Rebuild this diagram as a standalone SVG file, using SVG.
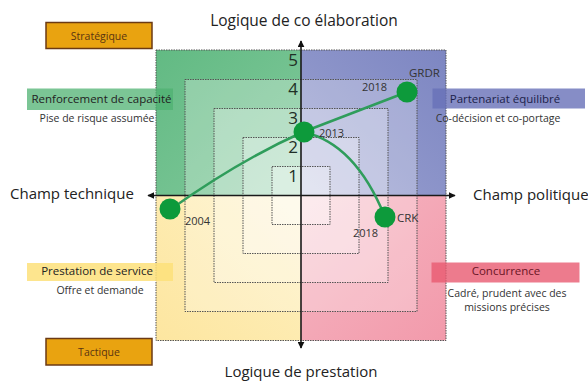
<svg xmlns="http://www.w3.org/2000/svg" width="588" height="381" viewBox="0 0 588 381">
<defs>
<style>
.t{font-family:"Open Sans","DejaVu Sans",sans-serif;fill:#222}
.ax{font-size:15px}
.lbl{font-size:11.5px}
.sub{font-size:10.5px;fill:#333}
.num{font-size:17px;fill:#1f2f26}
.yr{font-size:11px;fill:#333}
.sq{fill:#fff;fill-opacity:0.27;stroke:#555;stroke-width:1;stroke-dasharray:1.5 1}
.box{fill:#e9a310;stroke:#6b3a14;stroke-width:1.5}
.boxt{font-size:10.5px;fill:#5a3510}
.axis{stroke:#1a1a1a;stroke-width:1.6;fill:none}
.curve{stroke:#2f9d5b;stroke-width:2.5;fill:none}
.dot{fill:#0d9a3b}
</style>
<linearGradient id="gTL" x1="0" y1="0" x2="1" y2="1"><stop offset="0" stop-color="#62ba83"/><stop offset="1" stop-color="#82c99c"/></linearGradient>
<linearGradient id="gTR" x1="1" y1="0" x2="0" y2="1"><stop offset="0" stop-color="#7d86c2"/><stop offset="1" stop-color="#9aa1d0"/></linearGradient>
<linearGradient id="gBL" x1="0" y1="1" x2="1" y2="0"><stop offset="0" stop-color="#fde6a0"/><stop offset="1" stop-color="#fef0c0"/></linearGradient>
<linearGradient id="gBR" x1="1" y1="1" x2="0" y2="0"><stop offset="0" stop-color="#f29aab"/><stop offset="1" stop-color="#f6b6c2"/></linearGradient>
<marker id="arr" viewBox="0 0 10 10" refX="9" refY="5" markerWidth="7" markerHeight="7" orient="auto-start-reverse" markerUnits="userSpaceOnUse">
<path d="M0,0 L10,5 L0,10 z" fill="#111"/>
</marker>
</defs>
<rect width="588" height="381" fill="#fff"/>

<g id="quadrants">
<rect x="156" y="50" width="145" height="145.5" fill="url(#gTL)"/>
<rect x="301" y="50" width="145" height="145.5" fill="url(#gTR)"/>
<rect x="156" y="195.5" width="145" height="145" fill="url(#gBL)"/>
<rect x="301" y="195.5" width="145" height="145" fill="url(#gBR)"/>
<rect x="156" y="50" width="290" height="290.5" fill="none" stroke="#555" stroke-width="1" stroke-dasharray="1.5 1"/>
</g>

<g id="squares">
<rect class="sq" x="185" y="79.5" width="232" height="232"/>
<rect class="sq" x="214" y="108.5" width="174" height="174"/>
<rect class="sq" x="243" y="137.5" width="116" height="116"/>
<rect class="sq" x="272" y="166.5" width="58" height="58"/>
</g>

<g id="scale">
<text class="t num" x="298" y="66" text-anchor="end">5</text>
<text class="t num" x="298" y="95" text-anchor="end">4</text>
<text class="t num" x="298" y="124" text-anchor="end">3</text>
<text class="t num" x="298" y="153" text-anchor="end">2</text>
<text class="t num" x="298" y="182" text-anchor="end">1</text>
</g>

<g id="axes">
<line class="axis" x1="148" y1="195.5" x2="455" y2="195.5" marker-start="url(#arr)" marker-end="url(#arr)"/>
<line class="axis" x1="301" y1="41" x2="301" y2="348" marker-start="url(#arr)" marker-end="url(#arr)"/>
<text class="t ax" x="304" y="26" text-anchor="middle" style="font-size:15.5px">Logique de co élaboration</text>
<text class="t ax" x="301" y="377" text-anchor="middle">Logique de prestation</text>
<text class="t ax" x="10" y="199">Champ technique</text>
<text class="t ax" x="473" y="200">Champ politique</text>
</g>

<g id="connectors">
<path class="curve" d="M171,209 Q240,160 303,132"/>
<path class="curve" d="M303,132 L407,92"/>
<path class="curve" d="M303,132 Q355,143 385,217"/>
</g>

<g id="node-2004">
<circle class="dot" cx="170" cy="209" r="10.5"/>
<text class="t yr" x="185" y="225">2004</text>
</g>
<g id="node-2013">
<circle class="dot" cx="304" cy="132" r="10.5"/>
<text class="t yr" x="319" y="137">2013</text>
</g>
<g id="node-GRDR">
<circle class="dot" cx="407" cy="92" r="10.5"/>
<text class="t yr" x="362" y="91">2018</text>
<text class="t lbl" x="409" y="77" style="fill:#333">GRDR</text>
</g>
<g id="node-CRK">
<circle class="dot" cx="385" cy="217" r="10.5"/>
<text class="t lbl" x="397" y="222" style="fill:#333">CRK</text>
<text class="t yr" x="353" y="237">2018</text>
</g>

<g id="strategique">
<rect class="box" x="46" y="22.5" width="106" height="26"/>
<text class="t boxt" x="99" y="39.5" text-anchor="middle">Stratégique</text>
</g>
<g id="tactique">
<rect class="box" x="46" y="338.5" width="106" height="26.5"/>
<text class="t boxt" x="99" y="355.5" text-anchor="middle">Tactique</text>
</g>

<g id="renforcement">
<rect x="27" y="88.5" width="146" height="21.5" fill="#4fb272" fill-opacity="0.75"/>
<text class="t lbl" x="101.5" y="103" text-anchor="middle">Renforcement de capacité</text>
<text class="t sub" x="97" y="122" text-anchor="middle">Pise de risque assumée</text>
</g>
<g id="partenariat">
<rect x="432.5" y="88.5" width="152.5" height="20" fill="#6870b8" fill-opacity="0.8"/>
<text class="t lbl" x="505" y="102.5" text-anchor="middle" style="fill:#1c1f4a">Partenariat équilibré</text>
<text class="t sub" x="498" y="122" text-anchor="middle">Co-décision et co-portage</text>
</g>
<g id="prestation">
<rect x="27" y="263" width="146" height="18" fill="#fde07a" fill-opacity="0.85"/>
<text class="t lbl" x="97" y="275" text-anchor="middle">Prestation de service</text>
<text class="t sub" x="100" y="294" text-anchor="middle">Offre et demande</text>
</g>
<g id="concurrence">
<rect x="431.5" y="262.5" width="148" height="20" fill="#e85a70" fill-opacity="0.8"/>
<text class="t lbl" x="506" y="275" text-anchor="middle" style="fill:#6a1525">Concurrence</text>
<text class="t sub" x="507" y="297" text-anchor="middle">Cadré, prudent avec des</text>
<text class="t sub" x="507" y="310.5" text-anchor="middle">missions précises</text>
</g>
</svg>
